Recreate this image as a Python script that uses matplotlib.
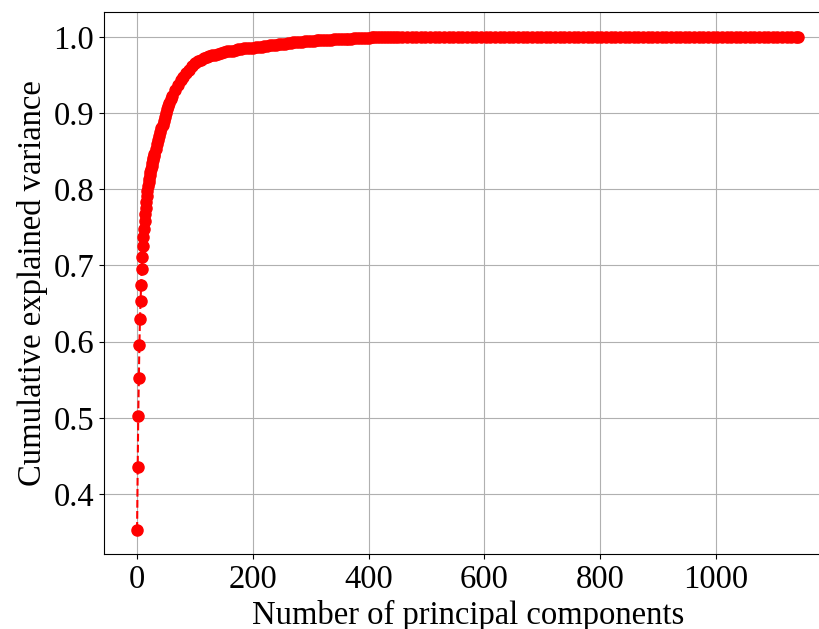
import numpy as np
import matplotlib
matplotlib.use("Agg")
import matplotlib.pyplot as plt

plt.rcParams['font.family'] = ['Liberation Serif', 'DejaVu Serif']

# cumulative explained variance
# segment A: every component 0..30
var_a = [0.353, 0.435, 0.503, 0.552, 0.596, 0.630, 0.654, 0.675, 0.695, 0.711,
         0.725, 0.737, 0.748, 0.758, 0.767, 0.776, 0.784, 0.791, 0.798, 0.804,
         0.809, 0.814, 0.819, 0.823, 0.827, 0.831, 0.835, 0.838, 0.841, 0.844,
         0.847]
# segment B: components 32..60, step 2
var_b = [0.853, 0.859, 0.865, 0.870, 0.875, 0.880, 0.885, 0.890, 0.895, 0.900,
         0.905, 0.909, 0.914, 0.918, 0.922]
# segment C: components 65..200, step 5
var_c = [0.930, 0.937, 0.943, 0.948, 0.953, 0.957, 0.962, 0.966, 0.968, 0.970,
         0.972, 0.974, 0.975, 0.976, 0.977, 0.978, 0.979, 0.980, 0.981, 0.982,
         0.982, 0.983, 0.984, 0.984, 0.985, 0.985, 0.986, 0.986]
# segment D: components 205..450, step 5
var_d = [0.9865, 0.9870, 0.9875, 0.9880, 0.9885, 0.9890, 0.9895, 0.9900, 0.9905, 0.9910,
         0.9915, 0.9920, 0.9925, 0.9930, 0.9930, 0.9935, 0.9940, 0.9945, 0.9945, 0.9950,
         0.9950, 0.9955, 0.9955, 0.9960, 0.9960, 0.9965, 0.9965, 0.9970, 0.9970, 0.9975,
         0.9975, 0.9980, 0.9980, 0.9980, 0.9985, 0.9985, 0.9985, 0.9990, 0.9990, 0.9990,
         0.9995, 0.9995, 0.9995, 0.9995, 1.0000, 1.0000, 1.0000, 1.0000, 1.0000, 1.0000]
# segment E: components 458..1138, step 8, then the last one (1142)
var_e = [1.0, 1.0, 1.0, 1.0, 1.0, 1.0, 1.0, 1.0, 1.0, 1.0,
         1.0, 1.0, 1.0, 1.0, 1.0, 1.0, 1.0, 1.0, 1.0, 1.0,
         1.0, 1.0, 1.0, 1.0, 1.0, 1.0, 1.0, 1.0, 1.0, 1.0,
         1.0, 1.0, 1.0, 1.0, 1.0, 1.0, 1.0, 1.0, 1.0, 1.0,
         1.0, 1.0, 1.0, 1.0, 1.0, 1.0, 1.0, 1.0, 1.0, 1.0,
         1.0, 1.0, 1.0, 1.0, 1.0, 1.0, 1.0, 1.0, 1.0, 1.0,
         1.0, 1.0, 1.0, 1.0, 1.0, 1.0, 1.0, 1.0, 1.0, 1.0,
         1.0, 1.0, 1.0, 1.0, 1.0, 1.0, 1.0, 1.0, 1.0, 1.0,
         1.0, 1.0, 1.0, 1.0, 1.0, 1.0, 1.0]

n_comp = np.concatenate([np.arange(0, 31), np.arange(32, 61, 2),
                         np.arange(65, 201, 5), np.arange(205, 451, 5),
                         np.arange(458, 1139, 8), [1142]])
cum_var = np.array(var_a + var_b + var_c + var_d + var_e)

fig = plt.figure(figsize=(8.19, 6.29), dpi=100)
# the reference is a crop: the axes run past the right edge
ax = fig.add_axes([0.127, 0.1186, 0.8881, 0.8617])

ax.plot(n_comp, cum_var, 'r--o', markersize=8, linewidth=1.5)
ax.grid(True)
ax.set_xlabel('Number of principal components', fontsize=23.5)
ax.set_ylabel('Cumulative explained variance', fontsize=23.5)
ax.tick_params(labelsize=23.5)

fig.savefig('out.png', dpi=100)
